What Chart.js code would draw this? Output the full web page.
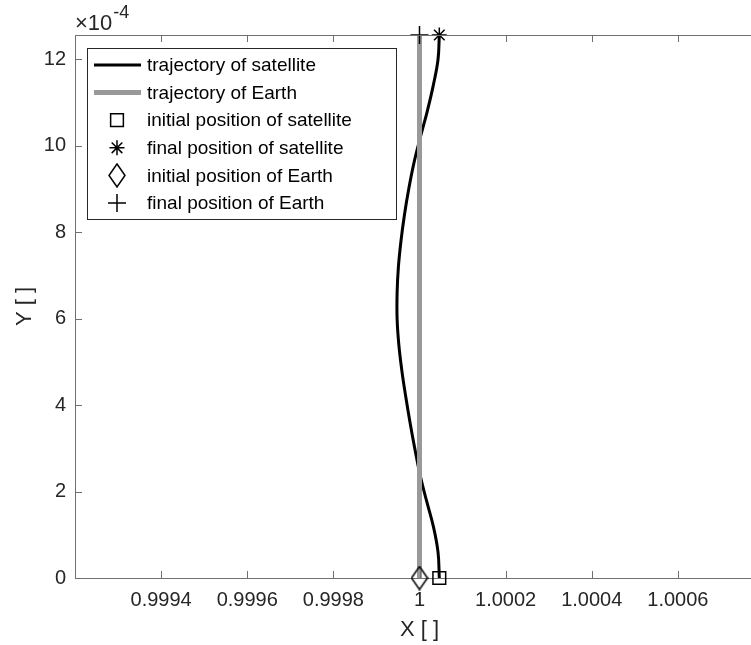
<!DOCTYPE html>
<html>
<head>
<meta charset="utf-8">
<script src="https://cdn.jsdelivr.net/npm/chart.js@4.4.1/dist/chart.umd.min.js"></script>
<style>
  html, body { margin: 0; padding: 0; background: #fff; overflow: hidden; }
  #wrap { width: 800px; height: 645px; }
</style>
</head>
<body>
<div id="wrap"><canvas id="orbit" width="800" height="645"></canvas></div>
<script>
// satellite trajectory (y in units of 1e-4)
const satX = [1.000046, 1.000043, 1.000032, 1.000016, 1.000001, 0.999989, 0.999978, 0.999968,
              0.999959, 0.999952, 0.999948, 0.999948, 0.999951, 0.999957, 0.999965, 0.999975,
              0.999987, 1.000002, 1.000018, 1.000032, 1.000043, 1.000046];
const satY = [0, 0.6, 1.2, 1.8, 2.4, 3.0, 3.6, 4.2,
              4.8, 5.4, 6.0, 6.6, 7.2, 7.8, 8.4, 9.0,
              9.6, 10.2, 10.8, 11.4, 12.0, 12.566];

// earth trajectory (vertical line at x = 1)
const earthX = [1, 1];
const earthY = [0, 12.566];

// start / end markers
const satStart = [1.000046, 0];
const satEnd = [1.000046, 12.566];
const earthStart = [1, 0];
const earthEnd = [1, 12.566];

const xTicks = [0.9994, 0.9996, 0.9998, 1, 1.0002, 1.0004, 1.0006];
const xTickLabels = ['0.9994', '0.9996', '0.9998', '1', '1.0002', '1.0004', '1.0006'];
const yTicks = [0, 2, 4, 6, 8, 10, 12];
const yTickLabels = ['0', '2', '4', '6', '8', '10', '12'];

const legendLabels = ['trajectory of satellite', 'trajectory of Earth', 'initial position of satellite',
                      'final position of satellite', 'initial position of Earth', 'final position of Earth'];

const FONT = "'Liberation Sans', Arial, Helvetica, sans-serif";
const AXIS = '#707070';
const TXT = '#262626';
const GRAY = '#999999';

// diamond marker (taller than wide, like the matlab one)
const diamond = document.createElement('canvas');
diamond.width = 18;
diamond.height = 25;
{
    const d = diamond.getContext('2d');
    d.strokeStyle = '#000';
    d.lineWidth = 1.5;
    d.beginPath();
    d.moveTo(9, 1);
    d.lineTo(17, 12.5);
    d.lineTo(9, 24);
    d.lineTo(1, 12.5);
    d.closePath();
    d.stroke();
}

function pts(xs, ys) {
    return xs.map((x, i) => ({ x: x, y: ys[i] }));
}

function marker(label, p, style, r) {
    return {
        label: label,
        data: [{ x: p[0], y: p[1] }],
        showLine: false,
        clip: false,
        pointStyle: style,
        pointRadius: r,
        pointBorderWidth: 1.5,
        pointBorderColor: '#000',
        pointBackgroundColor: 'rgba(0,0,0,0)',
        order: 0
    };
}

const datasets = [
    {
        label: legendLabels[0],
        data: pts(satX, satY),
        showLine: true,
        borderColor: '#000',
        borderWidth: 3,
        pointRadius: 0,
        tension: 0.4,
        order: 2
    },
    {
        label: legendLabels[1],
        data: pts(earthX, earthY),
        showLine: true,
        borderColor: GRAY,
        borderWidth: 5,
        pointRadius: 0,
        order: 1
    },
    marker(legendLabels[2], satStart, 'rect', 9),
    marker(legendLabels[3], satEnd, 'star', 7.5),
    marker(legendLabels[4], earthStart, diamond, 12),
    marker(legendLabels[5], earthEnd, 'cross', 9)
];

// inward ticks, top box line, x10^-4 and the legend box
const decor = {
    id: 'decor',
    afterDraw(chart) {
        const ctx = chart.ctx;
        const a = chart.chartArea;
        const xs = chart.scales.x;
        const ys = chart.scales.y;
        ctx.save();
        ctx.strokeStyle = AXIS;
        ctx.lineWidth = 1;
        ctx.beginPath();
        ctx.moveTo(a.left, a.top + 0.5);
        ctx.lineTo(a.right, a.top + 0.5);
        xTicks.forEach(v => {
            const px = Math.round(xs.getPixelForValue(v)) + 0.5;
            ctx.moveTo(px, a.bottom);
            ctx.lineTo(px, a.bottom - 7);
            ctx.moveTo(px, a.top);
            ctx.lineTo(px, a.top + 7);
        });
        yTicks.forEach(v => {
            const py = Math.round(ys.getPixelForValue(v)) + 0.5;
            ctx.moveTo(a.left, py);
            ctx.lineTo(a.left + 7, py);
        });
        ctx.stroke();

        // exponent
        ctx.fillStyle = TXT;
        ctx.textBaseline = 'alphabetic';
        ctx.textAlign = 'left';
        ctx.font = '22px ' + FONT;
        ctx.fillText('\u00d710', a.left, 30);
        const w = ctx.measureText('\u00d710').width;
        ctx.font = '18px ' + FONT;
        ctx.fillText('-4', a.left + w + 1, 18);

        // legend
        const lx = 87, ly = 48, lw = 309, lh = 171;
        ctx.fillStyle = '#fff';
        ctx.fillRect(lx, ly, lw, lh);
        ctx.strokeStyle = '#262626';
        ctx.lineWidth = 1;
        ctx.strokeRect(lx + 0.5, ly + 0.5, lw, lh);
        ctx.font = '19px ' + FONT;
        ctx.textBaseline = 'middle';
        const rowH = 27.6;
        chart.data.datasets.forEach((ds, i) => {
            const cy = ly + 17 + i * rowH;
            if (ds.showLine) {
                ctx.strokeStyle = ds.borderColor;
                ctx.lineWidth = ds.borderWidth;
                ctx.beginPath();
                ctx.moveTo(94, cy);
                ctx.lineTo(141, cy);
                ctx.stroke();
            } else {
                ctx.strokeStyle = '#000';
                ctx.fillStyle = 'rgba(0,0,0,0)';
                ctx.lineWidth = ds.pointBorderWidth;
                Chart.helpers.drawPoint(ctx, {
                    pointStyle: ds.pointStyle,
                    radius: ds.pointRadius,
                    borderWidth: ds.pointBorderWidth,
                    rotation: 0
                }, 117, cy);
            }
            ctx.fillStyle = '#000';
            ctx.fillText(ds.label, 147, cy + 1);
        });
        ctx.restore();
    }
};

const ctx = document.getElementById('orbit').getContext('2d');
const orbit = new Chart(ctx, {
    type: 'scatter',
    data: { datasets: datasets },
    options: {
        responsive: false,
        animation: false,
        layout: { padding: { top: 35, right: 36, left: 0, bottom: 0 } },
        plugins: {
            legend: { display: false },
            tooltip: { enabled: false }
        },
        scales: {
            x: {
                type: 'linear',
                min: 0.9992,
                max: 1.0008,
                afterBuildTicks: s => { s.ticks = xTicks.map(v => ({ value: v })); },
                afterFit: s => {
                    s.height = 67;
                    s.paddingLeft = 0; s.paddingRight = 0; s.paddingTop = 0; s.paddingBottom = 0;
                },
                ticks: {
                    autoSkip: false,
                    maxRotation: 0,
                    padding: 10,
                    color: TXT,
                    font: { family: FONT, size: 20 },
                    callback: (v) => {
                        const i = xTicks.findIndex(t => Math.abs(t - v) < 1e-9);
                        return i >= 0 ? xTickLabels[i] : '';
                    }
                },
                grid: { drawOnChartArea: false, drawTicks: false },
                border: { display: true, color: AXIS, width: 1 },
                title: {
                    display: true,
                    text: 'X [ ]',
                    color: TXT,
                    font: { family: FONT, size: 22 },
                    padding: { top: 0, bottom: 2 }
                }
            },
            y: {
                type: 'linear',
                min: 0,
                max: 12.566,
                afterBuildTicks: s => { s.ticks = yTicks.map(v => ({ value: v })); },
                afterFit: s => {
                    s.width = 75;
                    s.paddingLeft = 0; s.paddingRight = 0; s.paddingTop = 0; s.paddingBottom = 0;
                },
                ticks: {
                    autoSkip: false,
                    padding: 9,
                    color: TXT,
                    font: { family: FONT, size: 20 },
                    callback: (v) => {
                        const i = yTicks.indexOf(v);
                        return i >= 0 ? yTickLabels[i] : '';
                    }
                },
                grid: { drawOnChartArea: false, drawTicks: false },
                border: { display: true, color: AXIS, width: 1 },
                title: {
                    display: true,
                    text: 'Y [ ]',
                    color: TXT,
                    font: { family: FONT, size: 22 },
                    padding: { top: 12, bottom: 0 }
                }
            }
        }
    },
    plugins: [decor]
});
</script>
</body>
</html>
